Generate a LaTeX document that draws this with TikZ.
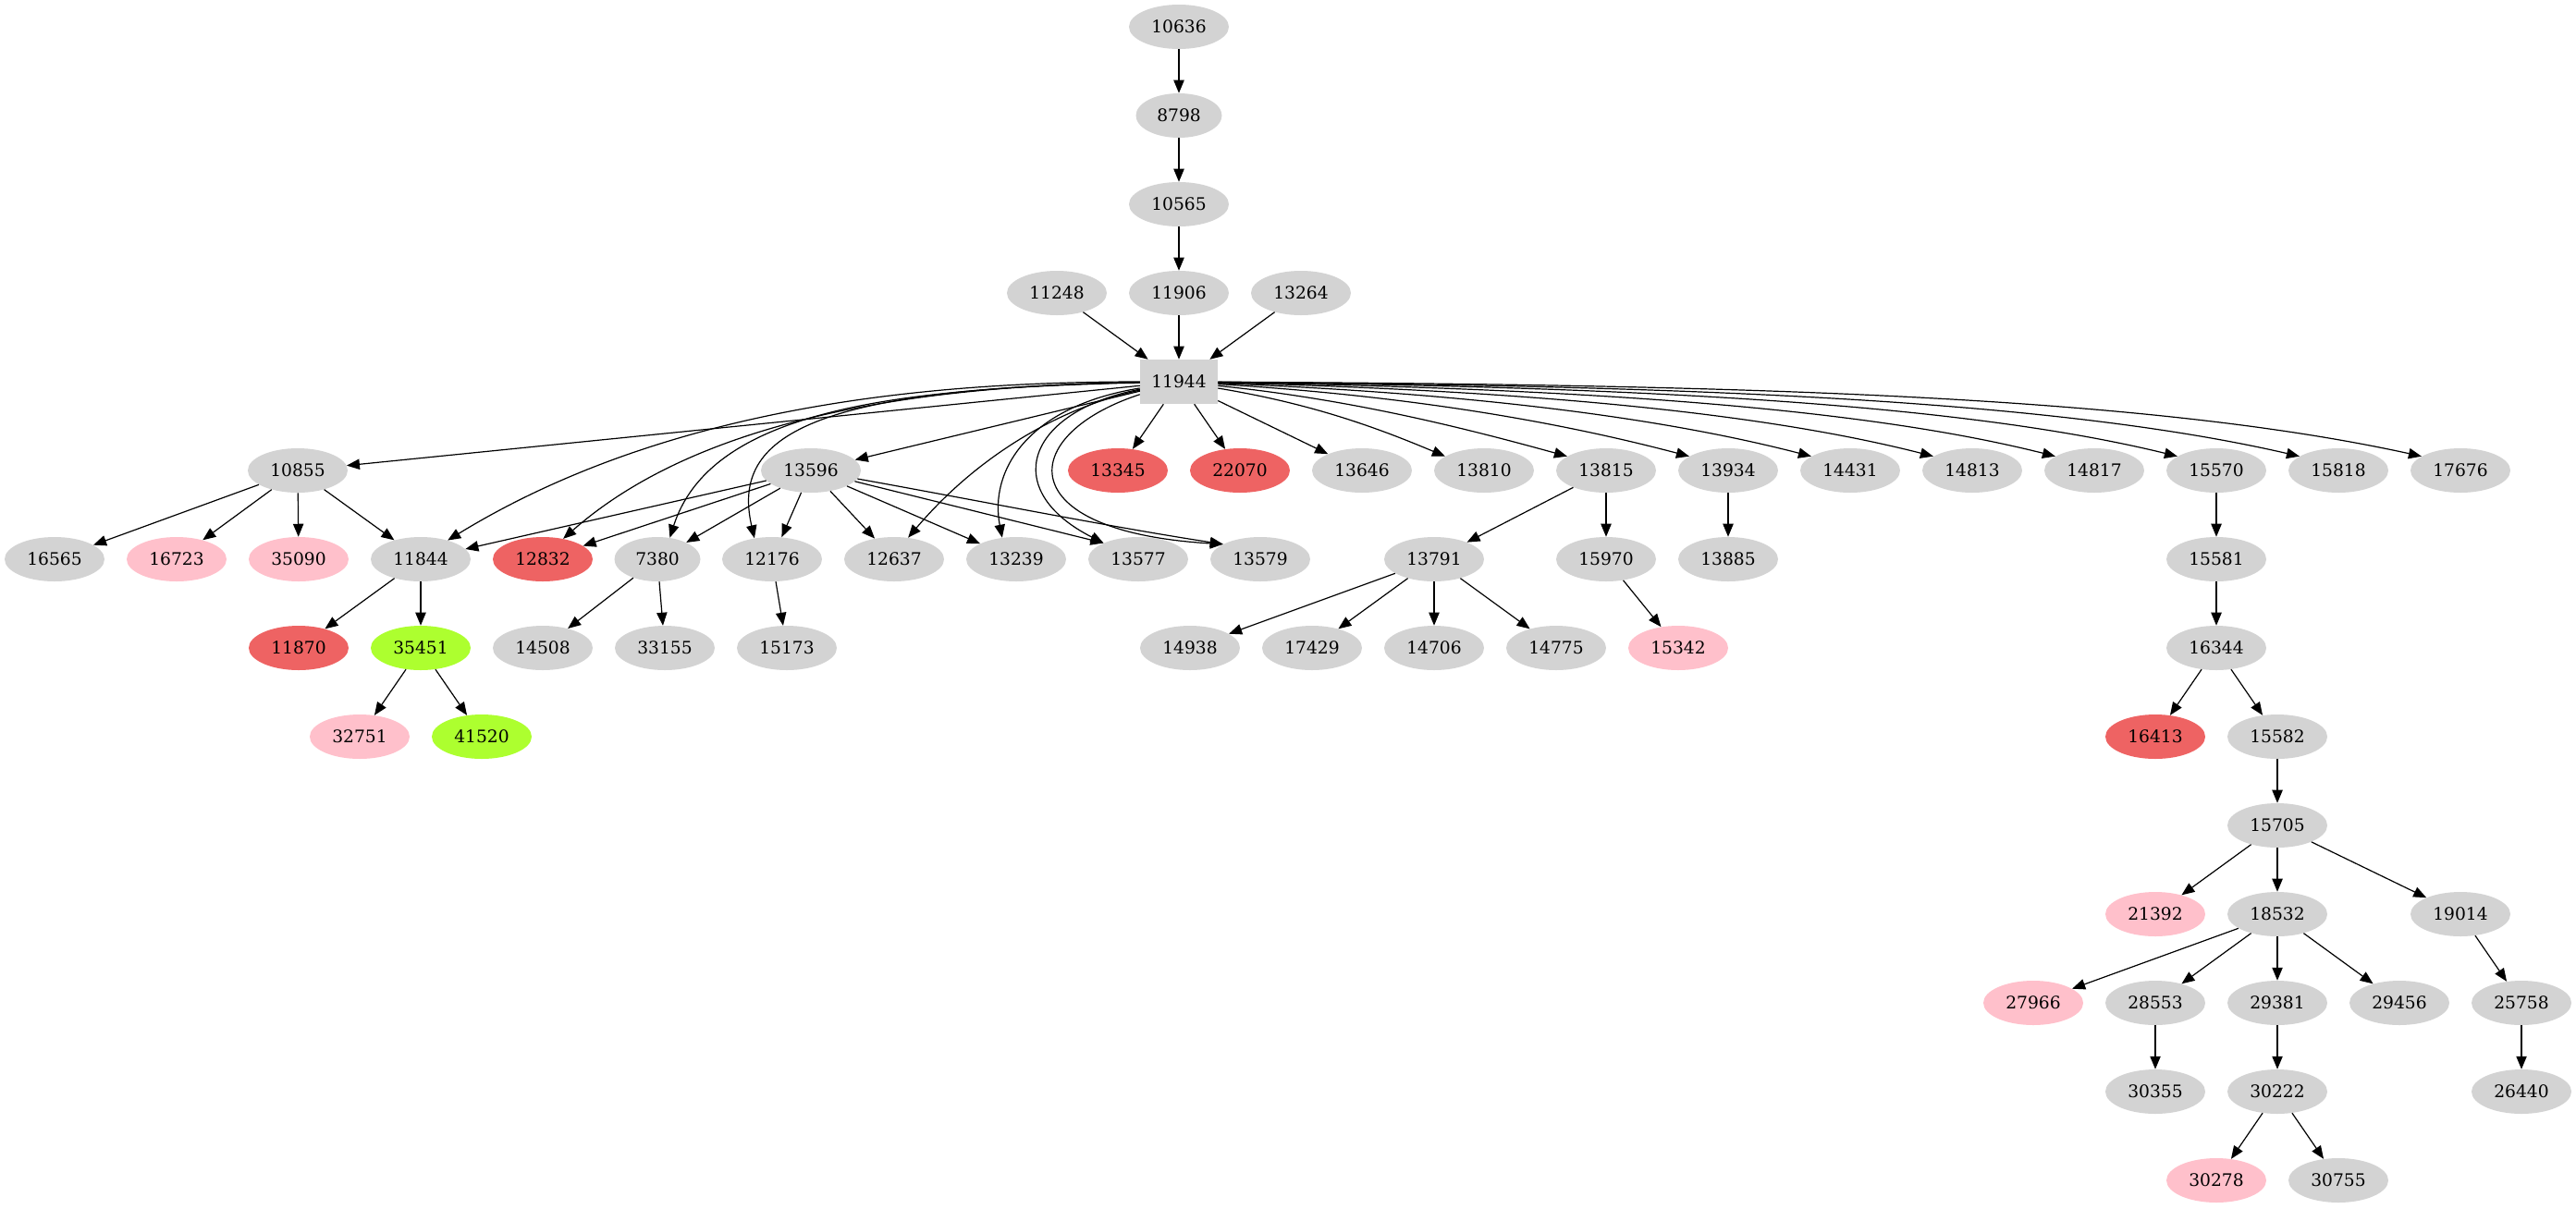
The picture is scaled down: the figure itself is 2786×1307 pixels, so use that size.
\documentclass[tikz,border=0pt]{standalone}
\usepackage{fontspec}
\setmainfont{DejaVu Serif}
\usetikzlibrary{shapes.geometric, arrows.meta}
\definecolor{cgray}{HTML}{D3D3D3}
\definecolor{cpink}{HTML}{FFC0CB}
\definecolor{cred}{HTML}{EE6363}
\definecolor{cgreen}{HTML}{ADFF2F}
\begin{document}
\begin{tikzpicture}[x=0.75pt, y=-0.75pt,
  nd/.style={ellipse, fill=cgray, draw=none, minimum width=81pt, minimum height=36pt, inner sep=0pt, font=\fontsize{14pt}{16pt}\selectfont},
  nf/.style={nd, minimum width=69.75pt},
  pk/.style={fill=cpink}, rd/.style={fill=cred}, gr/.style={fill=cgreen},
  bx/.style={rectangle, fill=cgray, draw=none, minimum width=63pt, minimum height=36pt, inner sep=0pt, font=\fontsize{14pt}{16pt}\selectfont},
  edge/.style={-{Triangle[length=10.5pt,width=8.5pt]}, line width=0.9pt}
]
\useasboundingbox (0,0) rectangle (2786,1307);
% rows 0-4
\node[nd] (n10636) at (1275,29) {10636};
\node[nf] (n8798) at (1275,125) {8798};
\node[nd] (n10565) at (1275,221) {10565};
\node[nd] (n11248) at (1143,317) {11248};
\node[nd] (n11906) at (1275,317) {11906};
\node[nd] (n13264) at (1407,317) {13264};
\node[bx] (n11944) at (1275,413) {11944};
% row 5
\node[nd] (n10855) at (322,509) {10855};
\node[nd] (n13596) at (877,509) {13596};
\node[nd,rd] (n13345) at (1209,509) {13345};
\node[nd,rd] (n22070) at (1341,509) {22070};
\node[nd] (n13646) at (1473,509) {13646};
\node[nd] (n13810) at (1605,509) {13810};
\node[nd] (n13815) at (1737,509) {13815};
\node[nd] (n13934) at (1869,509) {13934};
\node[nd] (n14431) at (2001,509) {14431};
\node[nd] (n14813) at (2133,509) {14813};
\node[nd] (n14817) at (2265,509) {14817};
\node[nd] (n15570) at (2397,509) {15570};
\node[nd] (n15818) at (2529,509) {15818};
\node[nd] (n17676) at (2661,509) {17676};
% row 6
\node[nd] (n16565) at (59,605) {16565};
\node[nd,pk] (n16723) at (191,605) {16723};
\node[nd,pk] (n35090) at (323,605) {35090};
\node[nd] (n11844) at (455,605) {11844};
\node[nd,rd] (n12832) at (587,605) {12832};
\node[nf] (n7380) at (711,605) {7380};
\node[nd] (n12176) at (835,605) {12176};
\node[nd] (n12637) at (967,605) {12637};
\node[nd] (n13239) at (1099,605) {13239};
\node[nd] (n13577) at (1231,605) {13577};
\node[nd] (n13579) at (1363,605) {13579};
\node[nd] (n13791) at (1551,605) {13791};
\node[nd] (n15970) at (1737,605) {15970};
\node[nd] (n13885) at (1869,605) {13885};
\node[nd] (n15581) at (2397,605) {15581};
% row 7
\node[nd,rd] (n11870) at (323,701) {11870};
\node[nd,gr] (n35451) at (455,701) {35451};
\node[nd] (n14508) at (587,701) {14508};
\node[nd] (n33155) at (719,701) {33155};
\node[nd] (n15173) at (851,701) {15173};
\node[nd] (n14938) at (1287,701) {14938};
\node[nd] (n17429) at (1419,701) {17429};
\node[nd] (n14706) at (1551,701) {14706};
\node[nd] (n14775) at (1683,701) {14775};
\node[nd,pk] (n15342) at (1815,701) {15342};
\node[nd] (n16344) at (2397,701) {16344};
% row 8
\node[nd,pk] (n32751) at (389,797) {32751};
\node[nd,gr] (n41520) at (521,797) {41520};
\node[nd,rd] (n16413) at (2331,797) {16413};
\node[nd] (n15582) at (2463,797) {15582};
% row 9
\node[nd] (n15705) at (2463,893) {15705};
% row 10
\node[nd,pk] (n21392) at (2331,989) {21392};
\node[nd] (n18532) at (2463,989) {18532};
\node[nd] (n19014) at (2661,989) {19014};
% row 11
\node[nd,pk] (n27966) at (2199,1085) {27966};
\node[nd] (n28553) at (2331,1085) {28553};
\node[nd] (n29381) at (2463,1085) {29381};
\node[nd] (n29456) at (2595,1085) {29456};
\node[nd] (n25758) at (2727,1085) {25758};
% row 12
\node[nd] (n30355) at (2331,1181) {30355};
\node[nd] (n30222) at (2463,1181) {30222};
\node[nd] (n26440) at (2727,1181) {26440};
% row 13
\node[nd,pk] (n30278) at (2397,1277) {30278};
\node[nd] (n30755) at (2529,1277) {30755};

% top chain
\draw[edge] (n10636) -- (n8798);
\draw[edge] (n8798) -- (n10565);
\draw[edge] (n10565) -- (n11906);
\draw[edge] (n11906) -- (n11944);
\draw[edge] (n11248) -- (n11944);
\draw[edge] (n13264) -- (n11944);

% 11944 left fan
\draw[edge] (n11944) -- (n10855);
\draw[edge] (n11944) .. controls (1000,413) and (720,440) .. (n11844.35);
\draw[edge] (n11944) .. controls (1000,417) and (760,450) .. (n12832.45);
\draw[edge] (n11944) .. controls (980,420) and (770,440) .. (n7380.60);
\draw[edge] (n11944) .. controls (880,420) and (790,470) .. (n12176.130);
\draw[edge] (n11944) -- (n13596);
\draw[edge] (n11944) .. controls (1150,440) and (1060,490) .. (n12637.57);
\draw[edge] (n11944) .. controls (1110,440) and (1070,510) .. (n13239.123);
\draw[edge] (n11944) .. controls (1110,445) and (1080,530) .. (n13577.155);
\draw[edge] (n11944) .. controls (1100,470) and (1090,575) .. (n13579.158);
% 11944 right fan
\draw[edge] (n11944) -- (n13345);
\draw[edge] (n11944) -- (n22070);
\draw[edge] (n11944) -- (n13646);
\draw[edge] (n11944) .. controls (1420,437) and (1490,463) .. (n13810.160);
\draw[edge] (n11944) .. controls (1460,432) and (1580,462) .. (n13815.160);
\draw[edge] (n11944) .. controls (1520,428) and (1680,455) .. (n13934.160);
\draw[edge] (n11944) .. controls (1580,425) and (1790,450) .. (n14431.160);
\draw[edge] (n11944) .. controls (1640,422) and (1900,445) .. (n14813.160);
\draw[edge] (n11944) .. controls (1700,420) and (2010,440) .. (n14817.160);
\draw[edge] (n11944) .. controls (1760,418) and (2120,436) .. (n15570.160);
\draw[edge] (n11944) .. controls (1820,417) and (2220,432) .. (n15818.160);
\draw[edge] (n11944) .. controls (1880,416) and (2320,428) .. (n17676.160);

% 10855
\draw[edge] (n10855) -- (n16565);
\draw[edge] (n10855) -- (n16723);
\draw[edge] (n10855) -- (n35090);
\draw[edge] (n10855) -- (n11844);
% 13596
\draw[edge] (n13596) -- (n11844);
\draw[edge] (n13596) -- (n12832);
\draw[edge] (n13596) -- (n7380);
\draw[edge] (n13596) -- (n12176);
\draw[edge] (n13596) -- (n12637);
\draw[edge] (n13596) -- (n13239);
\draw[edge] (n13596) -- (n13577.155);
\draw[edge] (n13596) .. controls (1050,540) and (1200,570) .. (n13579.158);
% lower left
\draw[edge] (n11844) -- (n11870);
\draw[edge] (n11844) -- (n35451);
\draw[edge] (n35451) -- (n32751);
\draw[edge] (n35451) -- (n41520);
\draw[edge] (n7380) -- (n14508);
\draw[edge] (n7380) -- (n33155);
\draw[edge] (n12176) -- (n15173);
% middle
\draw[edge] (n13815) -- (n13791);
\draw[edge] (n13815) -- (n15970);
\draw[edge] (n13791) -- (n14938);
\draw[edge] (n13791) -- (n17429);
\draw[edge] (n13791) -- (n14706);
\draw[edge] (n13791) -- (n14775);
\draw[edge] (n15970) -- (n15342);
\draw[edge] (n13934) -- (n13885);
% right chain
\draw[edge] (n15570) -- (n15581);
\draw[edge] (n15581) -- (n16344);
\draw[edge] (n16344) -- (n16413);
\draw[edge] (n16344) -- (n15582);
\draw[edge] (n15582) -- (n15705);
\draw[edge] (n15705) -- (n21392);
\draw[edge] (n15705) -- (n18532);
\draw[edge] (n15705) -- (n19014);
\draw[edge] (n18532) -- (n27966);
\draw[edge] (n18532) -- (n28553);
\draw[edge] (n18532) -- (n29381);
\draw[edge] (n18532) -- (n29456);
\draw[edge] (n19014) -- (n25758);
\draw[edge] (n25758) -- (n26440);
\draw[edge] (n28553) -- (n30355);
\draw[edge] (n29381) -- (n30222);
\draw[edge] (n30222) -- (n30278);
\draw[edge] (n30222) -- (n30755);
\end{tikzpicture}
\end{document}
